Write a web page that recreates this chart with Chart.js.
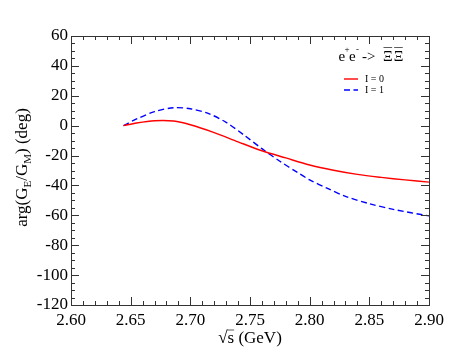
<!DOCTYPE html>
<html><head><meta charset="utf-8">
<script src="https://cdn.jsdelivr.net/npm/chart.js@4.4.0/dist/chart.umd.min.js"></script>
<style>html,body{margin:0;padding:0;background:#fff}#wrap{width:463px;height:358px}</style>
</head><body><div id="wrap"><canvas id="c" width="463" height="358"></canvas></div>
<script>
const xI0 = [2.644, 2.655, 2.67, 2.686, 2.70, 2.72, 2.74, 2.76, 2.78, 2.80, 2.82, 2.84, 2.86, 2.88, 2.90];
const yI0 = [0, 1.8, 3.3, 3.1, 0.6, -4.6, -10.8, -16.8, -21.6, -26.3, -29.8, -32.6, -34.6, -36.3, -37.8];
const xI1 = [2.644, 2.655, 2.67, 2.686, 2.70, 2.715, 2.73, 2.745, 2.76, 2.775, 2.79, 2.80, 2.815, 2.83, 2.85, 2.87, 2.90];
const yI1 = [0, 4.5, 9.4, 12.0, 11.3, 8.2, 2.2, -6.3, -15.4, -23.8, -31.4, -36.3, -42.0, -47.3, -52.2, -56.0, -60.4];
const xTicks = [2.60, 2.65, 2.70, 2.75, 2.80, 2.85, 2.90];
const yTicks = [60, 40, 20, 0, -20, -40, -60, -80, -100, -120];
const seriesNames = ['I = 0', 'I = 1'];

const FONT = '"Liberation Serif", "Times New Roman", serif';

const decor = {
  id: 'decor',
  afterDatasetsDraw(chart) {
    const ctx = chart.ctx, a = chart.chartArea;
    const xs = chart.scales.x, ys = chart.scales.y;
    ctx.save();
    ctx.strokeStyle = '#333';
    ctx.lineWidth = 1;
    for (let i = 0; i <= 30; i++) {
      const v = xs.min + i * 0.01;
      const px = Math.round(xs.getPixelForValue(v)) + 0.5;
      const L = (i % 5 === 0) ? 8 : 4;
      ctx.beginPath();
      ctx.moveTo(px, a.bottom); ctx.lineTo(px, a.bottom - L);
      ctx.moveTo(px, a.top); ctx.lineTo(px, a.top + L);
      ctx.stroke();
    }
    for (let v = ys.min; v <= ys.max; v += 5) {
      const py = Math.round(ys.getPixelForValue(v)) + 0.5;
      const L = (v % 20 === 0) ? 8 : 4;
      ctx.beginPath();
      ctx.moveTo(a.left, py); ctx.lineTo(a.left + L, py);
      ctx.moveTo(a.right, py); ctx.lineTo(a.right - L, py);
      ctx.stroke();
    }
    ctx.strokeRect(Math.round(a.left) + 0.5, Math.round(a.top) + 0.5, Math.round(a.right - a.left), Math.round(a.bottom - a.top));

    ctx.fillStyle = '#000';
    ctx.textBaseline = 'alphabetic';
    // x title: √s (GeV)
    ctx.font = '17px ' + FONT;
    const xt1 = '\u221A', xt2 = 's', xt3 = ' (GeV)';
    const w1 = ctx.measureText(xt1).width, w2 = ctx.measureText(xt2).width, w3 = ctx.measureText(xt3).width;
    let sx = (a.left + a.right) / 2 - (w1 + w2 + w3) / 2;
    const by = 343;
    ctx.fillText(xt1, sx, by);
    ctx.fillText(xt2, sx + w1, by);
    ctx.beginPath(); ctx.lineWidth = 0.8; ctx.moveTo(sx + w1 - 0.5, by - 13); ctx.lineTo(sx + w1 + w2, by - 13); ctx.stroke();
    ctx.fillText(xt3, sx + w1 + w2, by);

    // y title: arg(G_E/G_M) (deg)
    ctx.save();
    ctx.translate(27, (a.top + a.bottom) / 2 - 3);
    ctx.rotate(-Math.PI / 2);
    const parts = [['arg(G', 0], ['E', 1], ['/G', 0], ['M', 1], [') (deg)', 0]];
    const big = '17px ' + FONT, small = '11px ' + FONT;
    let tw = 0;
    parts.forEach(p => { ctx.font = p[1] ? small : big; tw += ctx.measureText(p[0]).width; });
    let cx = -tw / 2;
    parts.forEach(p => {
      ctx.font = p[1] ? small : big;
      ctx.fillText(p[0], cx, p[1] ? 4 : 0);
      cx += ctx.measureText(p[0]).width;
    });
    ctx.restore();

    // reaction label e+e- -> ΞΞ (overlined)
    const ly = 61;
    ctx.font = '15px ' + FONT;
    ctx.fillText('e', 338.5, ly);
    ctx.fillText('e', 349, ly);
    ctx.font = '9px ' + FONT;
    ctx.fillText('+', 344.5, ly - 9);
    ctx.fillText('-', 356, ly - 9);
    ctx.font = '15px ' + FONT;
    ctx.fillText('->', 362, ly);
    const xw = ctx.measureText('\u039E').width;
    let lx = 383;
    for (let k = 0; k < 2; k++) {
      ctx.fillText('\u039E', lx, ly);
      ctx.beginPath(); ctx.lineWidth = 0.8; ctx.moveTo(lx + 0.5, ly - 13.5); ctx.lineTo(lx + xw - 0.5, ly - 13.5); ctx.stroke();
      lx += xw + 1;
    }

    // legend
    const ds = chart.data.datasets;
    const rows = [79, 90];
    ds.forEach((d, i) => {
      ctx.save();
      ctx.strokeStyle = d.borderColor; ctx.lineWidth = d.borderWidth;
      ctx.setLineDash(d.borderDash || []);
      ctx.beginPath(); ctx.moveTo(344, rows[i]); ctx.lineTo(358, rows[i]); ctx.stroke();
      ctx.restore();
      ctx.font = '10px ' + FONT; ctx.fillStyle = '#000'; ctx.textBaseline = 'middle';
      ctx.fillText(d.label, 365, rows[i]);
      ctx.textBaseline = 'alphabetic';
    });
    ctx.restore();
  }
};

new Chart(document.getElementById('c'), {
  type: 'line',
  data: {
    datasets: [
      { label: seriesNames[0], data: xI0.map((x, i) => ({x, y: yI0[i]})), borderColor: '#ff0000', borderWidth: 1.4, pointRadius: 0, tension: 0.3, fill: false },
      { label: seriesNames[1], data: xI1.map((x, i) => ({x, y: yI1[i]})), borderColor: '#0000ff', borderWidth: 1.4, borderDash: [6, 3.5], pointRadius: 0, tension: 0.3, fill: false }
    ]
  },
  options: {
    responsive: false, animation: false,
    layout: { padding: { top: 36, right: 34, left: 0, bottom: 0 } },
    plugins: { legend: { display: false }, tooltip: { enabled: false } },
    scales: {
      x: {
        type: 'linear', min: 2.6, max: 2.9,
        afterBuildTicks: s => { s.ticks = xTicks.map(v => ({value: v})); },
        afterFit: s => { s.height = 53; },
        grid: { display: false, drawTicks: false }, border: { display: false },
        ticks: { color: '#000', padding: 5, maxRotation: 0, autoSkip: false, font: { family: FONT, size: 17 }, callback: v => v.toFixed(2) }
      },
      y: {
        min: -120, max: 60,
        afterBuildTicks: s => { s.ticks = yTicks.map(v => ({value: v})); },
        afterFit: s => { s.width = 71; },
        grid: { display: false, drawTicks: false }, border: { display: false },
        ticks: { color: '#000', padding: 3, autoSkip: false, font: { family: FONT, size: 17 } }
      }
    }
  },
  plugins: [decor]
});
</script></body></html>
